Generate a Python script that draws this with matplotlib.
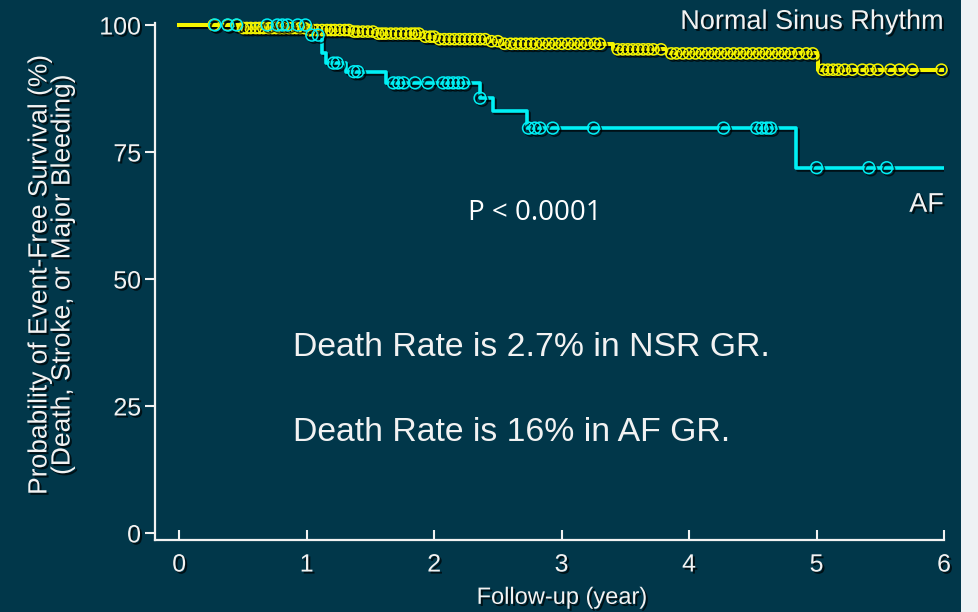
import matplotlib
matplotlib.use('Agg')
import matplotlib.pyplot as plt
import matplotlib.patheffects as pe
from matplotlib.patches import Rectangle
import numpy as np

# Kaplan-Meier steps (years, survival %)
nsr_t = [0.0, 0.48, 1.00, 1.34, 1.55, 1.91, 2.02, 2.42, 2.52, 3.40, 3.83, 5.01, 6.0]
nsr_s = [100.0, 99.4, 99.0, 98.7, 98.3, 97.7, 97.2, 96.8, 96.3, 95.2, 94.4, 91.2, 91.2]
nsr_cens = [0.27, 0.38, 0.45, 0.50, 0.53, 0.56, 0.60, 0.63, 0.66, 0.70, 0.73, 0.76,
            0.79, 0.82, 0.86, 0.89, 0.92, 0.95, 0.98, 1.02, 1.05, 1.08, 1.12, 1.16,
            1.19, 1.22, 1.26, 1.30, 1.33, 1.37, 1.40, 1.44, 1.48, 1.52, 1.56, 1.59,
            1.62, 1.66, 1.70, 1.74, 1.78, 1.82, 1.85, 1.88, 1.93, 1.97, 2.00, 2.04,
            2.08, 2.12, 2.16, 2.20, 2.24, 2.28, 2.32, 2.36, 2.40, 2.45, 2.50, 2.55,
            2.60, 2.64, 2.68, 2.72, 2.76, 2.80, 2.85, 2.90, 2.95, 3.00, 3.05, 3.10,
            3.15, 3.20, 3.26, 3.30, 3.44, 3.48, 3.52, 3.56, 3.60, 3.64, 3.68, 3.72,
            3.78, 3.86, 3.90, 3.95, 4.00, 4.05, 4.10, 4.15, 4.20, 4.25, 4.30, 4.35,
            4.40, 4.45, 4.50, 4.55, 4.60, 4.65, 4.70, 4.75, 4.80, 4.86, 4.92, 4.97,
            5.05, 5.09, 5.13, 5.17, 5.22, 5.28, 5.36, 5.42, 5.48, 5.58, 5.65, 5.75, 5.98]

af_t = [0.0, 1.00, 1.12, 1.15, 1.31, 1.62, 2.36, 2.46, 2.73, 4.84, 6.0]
af_s = [100.0, 98.0, 94.5, 92.5, 90.8, 88.6, 85.6, 83.1, 79.7, 71.9, 71.9]
af_cens = [0.28, 0.38, 0.45, 0.69, 0.77, 0.81, 0.85, 0.93, 0.99, 1.04, 1.09,
           1.21, 1.24, 1.37, 1.40, 1.68, 1.72, 1.76, 1.85, 1.95, 2.07, 2.11, 2.15,
           2.19, 2.23, 2.36, 2.74, 2.79, 2.83, 2.93, 3.25, 4.27, 4.53, 4.57, 4.61,
           4.64, 5.00, 5.41, 5.55]

xticks = [0, 1, 2, 3, 4, 5, 6]
yticks = [0, 25, 50, 75, 100]

bg = '#01374a'
fg = '#f2f2f2'
yellow = '#f5f500'
cyan = '#00f0f5'

txt_fx = [pe.withSimplePatchShadow(offset=(1.5, -1.5), shadow_rgbFace='black', alpha=0.7)]
line_fx = [pe.SimpleLineShadow(offset=(1.5, -1.5), shadow_color='black', alpha=0.7), pe.Normal()]
arial = ['Liberation Sans', 'DejaVu Sans']


def step_value(ts, ss, x):
    idx = np.searchsorted(ts, x, side='right') - 1
    return np.asarray(ss)[idx]


fig = plt.figure(figsize=(9.79, 6.12), dpi=100, facecolor=bg)
fig.patches.append(Rectangle((961 / 979, 0), 18 / 979, 1, transform=fig.transFigure,
                             facecolor='#eef2f4', edgecolor='none', zorder=0))
ax = fig.add_axes([155 / 979, 0.1176, 789 / 979, 0.8499])
ax.set_facecolor(bg)

ax.step(af_t, af_s, where='post', color=cyan, lw=2.6, zorder=3, path_effects=line_fx)
ax.step(nsr_t, nsr_s, where='post', color=yellow, lw=2.9, zorder=4, path_effects=line_fx)
ax.plot(nsr_cens, step_value(nsr_t, nsr_s, nsr_cens), 'o', mfc='none', mec=yellow,
        ms=8, mew=1.1, zorder=5, clip_on=False, path_effects=line_fx)
ax.plot(af_cens, step_value(af_t, af_s, af_cens), 'o', mfc='none', mec=cyan,
        ms=8.5, mew=1.1, zorder=6, clip_on=False, path_effects=line_fx)

ax.set_xlim(-0.19, 6.0)
ax.set_ylim(-1.4, 101)
for s in ['top', 'right']:
    ax.spines[s].set_visible(False)
for s in ['left', 'bottom']:
    ax.spines[s].set_color(fg)
    ax.spines[s].set_linewidth(1.6)
ax.spines['left'].set_bounds(-1.4, 100.4)
ax.spines['bottom'].set_bounds(-0.19, 6.0)

tick_font = {'family': arial, 'size': 18}
ax.set_xticks(xticks)
ax.set_yticks(yticks)
ax.set_xticklabels([str(v) for v in xticks], fontdict=tick_font, color=fg, path_effects=txt_fx)
ax.set_yticklabels([str(v) for v in yticks], fontdict=tick_font, color=fg, path_effects=txt_fx)
ax.tick_params(axis='x', direction='in', length=7, width=1.5, color=fg, pad=9)
ax.tick_params(axis='y', direction='out', length=7, width=1.5, color=fg, pad=3)

ax.set_xlabel('Follow-up (year)', family=arial, size=17, color=fg, path_effects=txt_fx)
ax.xaxis.set_label_coords(0.516, -0.09)
ax.set_ylabel('Probability of Event-Free Survival (%)\n(Death, Stroke, or Major Bleeding)',
              family=arial, size=19, color=fg, linespacing=0.95, path_effects=txt_fx)
ax.yaxis.set_label_coords(-0.102, 0.51)

ax.text(6.0, 100.6, 'Normal Sinus Rhythm', ha='right', va='center', color=fg,
        family=arial, size=19.5, path_effects=txt_fx)
ax.text(6.0, 64.6, 'AF', ha='right', va='center', color=fg,
        family=arial, size=19.5, path_effects=txt_fx)
ax.text(2.79, 63.0, 'P < 0.0001', ha='center', va='center', color='white',
        family=['Open Sans', 'DejaVu Sans'], size=20)
ax.text(0.894, 36.6, 'Death Rate is 2.7% in NSR GR.', ha='left', va='center', color=fg,
        family=arial, size=24.3)
ax.text(0.894, 19.7, 'Death Rate is 16% in AF GR.', ha='left', va='center', color=fg,
        family=arial, size=24.3)

fig.savefig('out.png', dpi=100, facecolor=bg)
